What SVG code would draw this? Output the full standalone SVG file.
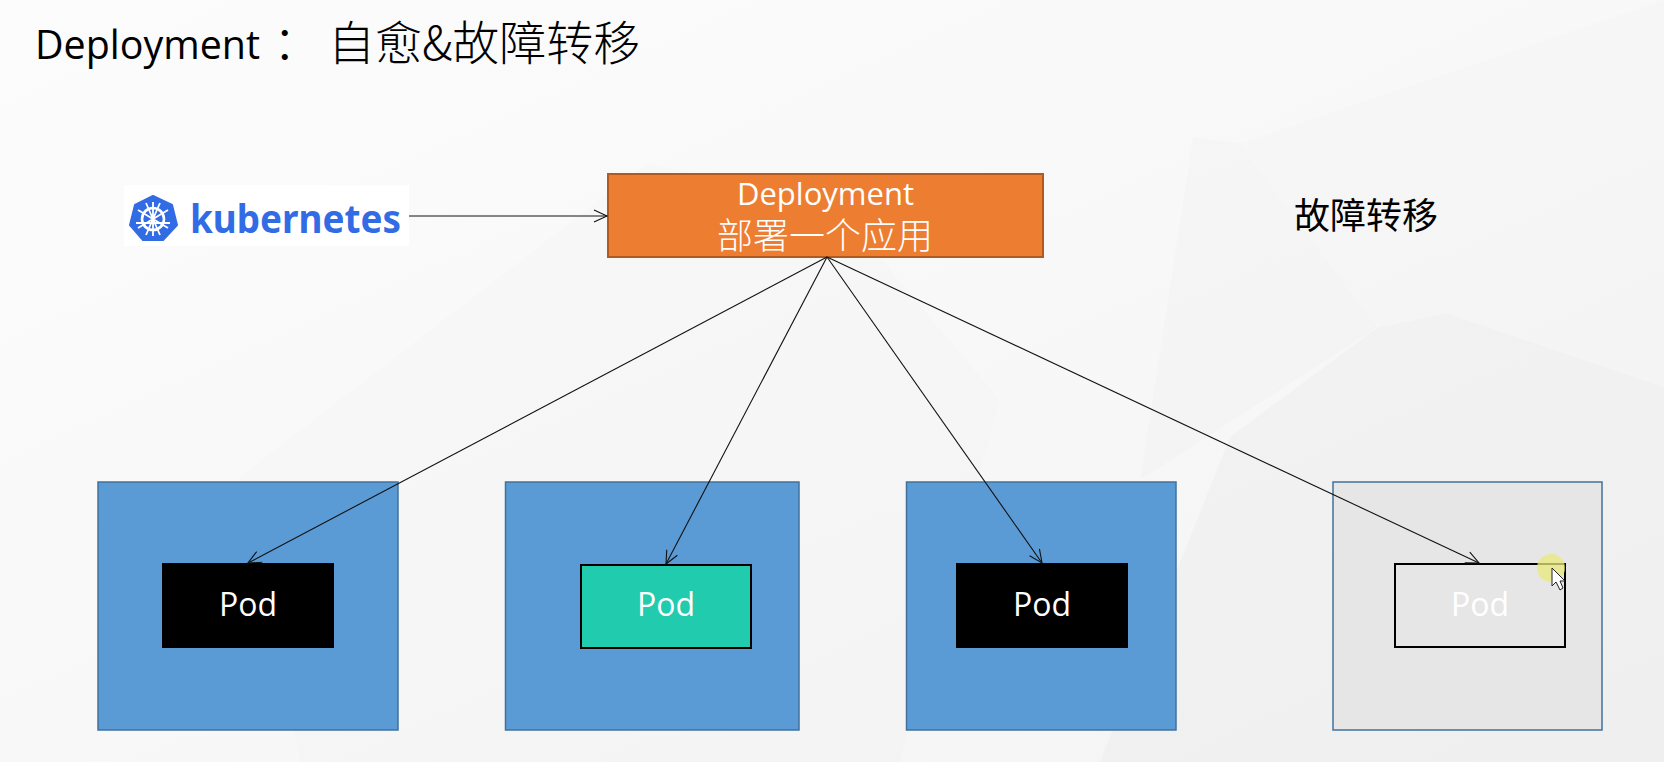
<svg xmlns="http://www.w3.org/2000/svg" width="1664" height="762" viewBox="0 0 1664 762">
<style>
.t{font-family:"Open Sans","Noto Sans CJK SC",sans-serif}
.c{font-family:"Noto Sans CJK SC",sans-serif;font-weight:300}
.box{fill:#5b9bd5;stroke:#41719c;stroke-width:1.5}
.pod{fill:#000}
.lbl{font-family:"Open Sans","Noto Sans CJK SC",sans-serif;font-size:32px;fill:#fff;text-anchor:middle}
.conn{fill:none;stroke:#111;stroke-width:1.1;marker-end:url(#a)}
.f{fill:#000}
</style>
<defs>
<marker id="a" markerUnits="userSpaceOnUse" markerWidth="16" markerHeight="16" refX="14" refY="7" orient="auto"><path d="M1 1 L14 7 L1 13" fill="none" stroke="#111" stroke-width="1.1"/></marker>
<linearGradient id="bg" x1="0" y1="0" x2="1" y2="1"><stop offset="0" stop-color="#fcfcfc"/><stop offset=".5" stop-color="#f8f8f8"/><stop offset="1" stop-color="#f4f4f4"/></linearGradient>
</defs>
<rect id="background" width="1664" height="762" fill="url(#bg)"/>
<g id="bg-facets">
<path class="f" opacity=".008" d="M647 163L832 200L1000 400L900 762H300L239 477Z"/>
<path class="f" opacity=".012" d="M1240 143L1193 137L1140 480L1378 327Z"/>
<path class="f" opacity=".006" d="M1240 143L1664 0V387L1447 313L1378 327Z"/>
<path class="f" opacity=".02" d="M1378 327L1447 313L1664 387V762H1100L1230 437Z"/>
</g>
<g id="title"><text class="t" x="35" y="59" font-size="41" fill="#000" textLength="225" lengthAdjust="spacingAndGlyphs">Deployment</text><text class="c" x="273" y="59" font-size="47" fill="#000">：</text><text class="c" x="328" y="60" font-size="47" fill="#000">自愈&amp;故障转移</text></g>
<g id="failover-label"><text font-family="Noto Sans CJK SC,sans-serif" x="1294" y="229" font-size="36" fill="#000">故障转移</text></g>
<g id="kubernetes-logo">
<rect x="124" y="185" width="285" height="61" fill="#fff"/>
<path d="M153 196L172 205L177 225L163 240H143L130 225L135 205Z" fill="#326ce5" stroke="#326ce5" stroke-width="2" stroke-linejoin="round"/>
<g fill="none" stroke="#fff"><circle cx="153" cy="219" r="11" stroke-width="2.600"/><path d="M153 202V236M138 210L168 228M168 210L138 228M136 223L170 223M146 235L160 203M160 235L146 203" stroke-width="1.800"/></g>
<text x="190" y="233" font-family="Noto Sans,sans-serif" font-weight="700" font-size="40" fill="#326ce5" textLength="211" lengthAdjust="spacingAndGlyphs">kubernetes</text>
</g>
<g id="deployment"><rect x="608" y="174" width="435" height="83" fill="#ed7d31" stroke="#ae5a21" stroke-width="2"/>
<text class="lbl" x="825.500" y="205" style="font-size:31px">Deployment</text><text class="c" x="825" y="249" font-size="36" fill="#fff" text-anchor="middle">部署一个应用</text></g>
<g id="pod-group-1"><rect class="box" x="98" y="482" width="300" height="248"/><rect class="pod" x="162" y="563" width="172" height="85"/><text class="lbl" x="248" y="616">Pod</text></g>
<g id="pod-group-2"><rect class="box" x="505.500" y="482" width="293.500" height="248"/><rect x="581" y="565" width="170" height="83" fill="#20cbae" stroke="#000" stroke-width="2"/><text class="lbl" x="666" y="616">Pod</text></g>
<g id="pod-group-3"><rect class="box" x="906.500" y="482" width="269.500" height="248"/><rect class="pod" x="956" y="563" width="172" height="85"/><text class="lbl" x="1042" y="616">Pod</text></g>
<g id="pod-group-4"><rect x="1333" y="482" width="269" height="248" fill="#e6e6e6" stroke="#41719c" stroke-width="1.500"/><rect x="1395" y="564" width="170" height="83" fill="none" stroke="#000" stroke-width="2"/><text class="lbl" x="1480" y="616">Pod</text></g>
<g id="connectors">
<path class="conn" d="M409 216H607"/>
<path class="conn" d="M827 257L248 563"/>
<path class="conn" d="M827 257L666 564"/>
<path class="conn" d="M827 257L1042 563"/>
<path class="conn" d="M827 257L1479 563"/>
</g>
<g id="cursor">
<circle cx="1551" cy="568" r="14" fill="#e9e97a" opacity=".75"/>
<path d="M1552 568V586L1556 582L1560 590L1563 588L1560 581L1565 581Z" fill="#fff" stroke="#222" stroke-width="1"/>
</g>
</svg>
